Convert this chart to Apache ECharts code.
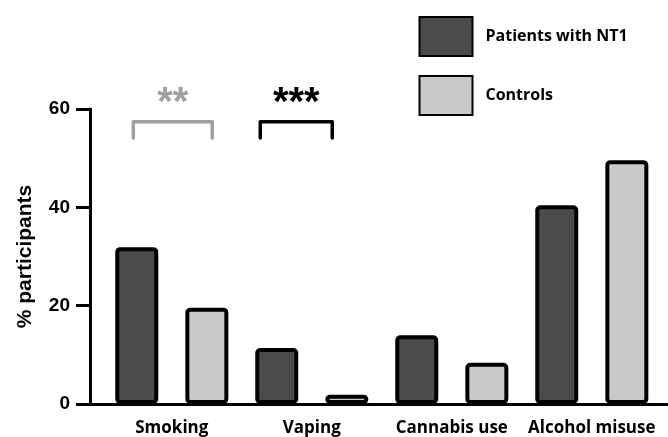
<!DOCTYPE html>
<html>
<head>
<meta charset="utf-8">
<script src="https://cdn.jsdelivr.net/npm/echarts@6/dist/echarts.min.js"></script>
<style>
  html, body { margin: 0; padding: 0; background: #fff; }
  #chart { width: 668px; height: 437px; }
</style>
</head>
<body>
<div id="chart"></div>
<script>
// Substance use by group (% of participants)
const categories = ['Smoking', 'Vaping', 'Cannabis use', 'Alcohol misuse'];
const patientsNT1 = [31.9, 11.4, 14.0, 40.4];
const controls = [19.6, 1.9, 8.4, 49.6];
const yTicks = [0, 20, 40, 60];

// Significance annotations
const sigCategories = ['Smoking', 'Vaping'];
const sigMarks = ['**', '***'];

// Bracket drawing settings (fractions of a category band, y in axis units)
const bracketSpans = [[-0.275, 0.289], [-0.368, 0.146]];
const bracketColors = ['#a0a0a0', '#000000'];
const bracketTop = 57.4, bracketLeg = 54.1, markY = 61.0;

const axisFont = 'Liberation Sans, Arial, sans-serif';
const labelFont = 'Open Sans, Lato, sans-serif';

const chart = echarts.init(document.getElementById('chart'), null, { renderer: 'canvas' });

const sigData = sigCategories.map((c, i) => [categories.indexOf(c), i]);

chart.setOption({
  animation: false,
  backgroundColor: '#ffffff',
  legend: {
    orient: 'vertical',
    left: 413.5,
    top: 11,
    itemWidth: 53,
    itemHeight: 39,
    itemGap: 18,
    icon: 'rect',
    data: ['Patients with NT1', 'Controls'],
    textStyle: {
      fontFamily: labelFont, fontWeight: 'bold', fontSize: 16, color: '#000',
      padding: [0, 0, 0, 8]
    }
  },
  grid: [
    { left: 101.8, right: 6.2, top: 109, bottom: 33 },
    { left: 90, right: 0, top: 109, bottom: 33 }
  ],
  xAxis: [
    {
      type: 'category',
      gridIndex: 0,
      data: categories,
      axisLine: { show: false },
      axisTick: { show: false },
      axisLabel: {
        margin: 16,
        fontFamily: labelFont, fontWeight: 'bold', fontSize: 17, color: '#000',
        interval: 0
      }
    },
    {
      type: 'value',
      gridIndex: 1,
      min: 0, max: 1,
      axisLine: { show: true, onZero: false, lineStyle: { color: '#000', width: 3 } },
      axisTick: { show: false },
      axisLabel: { show: false },
      splitLine: { show: false }
    }
  ],
  yAxis: [
    {
      type: 'value',
      gridIndex: 0,
      min: yTicks[0],
      max: yTicks[yTicks.length - 1],
      interval: yTicks[1] - yTicks[0],
      offset: 11.8,
      name: '% participants',
      nameLocation: 'middle',
      nameGap: 54,
      nameTextStyle: { fontFamily: axisFont, fontWeight: 'bold', fontSize: 21, color: '#000' },
      axisLine: { show: true, lineStyle: { color: '#000', width: 3 } },
      axisTick: { show: true, length: 14, lineStyle: { color: '#000', width: 3 } },
      axisLabel: { margin: 20, fontFamily: axisFont, fontWeight: 'bold', fontSize: 19, color: '#000' },
      splitLine: { show: false }
    },
    { type: 'value', gridIndex: 1, show: false, min: 0, max: 1 }
  ],
  series: [
    {
      name: 'Patients with NT1',
      type: 'bar',
      data: patientsNT1,
      barWidth: 43,
      barGap: '63%',
      itemStyle: { color: '#4b4b4b', borderColor: '#000', borderWidth: 4, borderRadius: 3 }
    },
    {
      name: 'Controls',
      type: 'bar',
      data: controls,
      barWidth: 43,
      barGap: '63%',
      itemStyle: { color: '#c9c9c9', borderColor: '#000', borderWidth: 4, borderRadius: 3 }
    },
    {
      name: 'significance',
      type: 'custom',
      clip: false,
      silent: true,
      data: sigData,
      encode: { x: 0 },
      renderItem: function (params, api) {
        const cat = api.value(0);
        const k = api.value(1);
        const band = api.size([1, 0])[0];
        const c = api.coord([cat, bracketTop]);
        const leg = api.coord([cat, bracketLeg])[1];
        const starY = api.coord([cat, markY])[1];
        const x1 = c[0] + bracketSpans[k][0] * band;
        const x2 = c[0] + bracketSpans[k][1] * band;
        const col = bracketColors[k];
        return {
          type: 'group',
          children: [
            {
              type: 'polyline',
              shape: { points: [[x1, leg], [x1, c[1]], [x2, c[1]], [x2, leg]] },
              style: { stroke: col, lineWidth: 3.5, fill: null, lineJoin: 'round', lineCap: 'round' }
            },
            {
              type: 'text',
              style: {
                x: (x1 + x2) / 2, y: starY,
                text: sigMarks[k],
                align: 'center', verticalAlign: 'middle',
                fontFamily: axisFont, fontWeight: 'bold', fontSize: 40, fill: col
              }
            }
          ]
        };
      }
    }
  ]
});
</script>
</body>
</html>
